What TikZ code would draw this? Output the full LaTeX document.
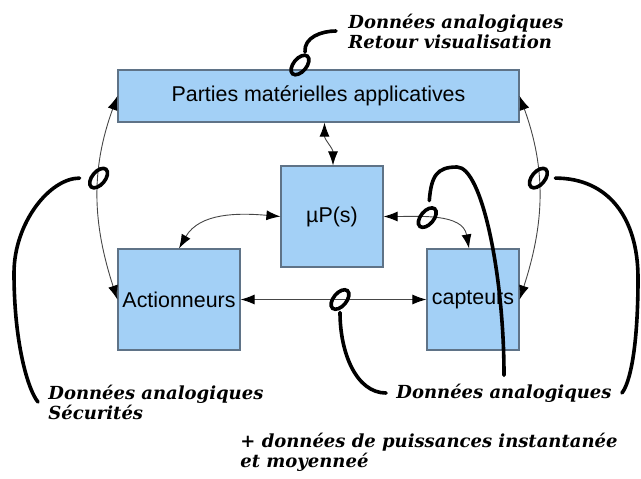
\documentclass[tikz,border=0pt]{standalone}
\usepackage{fontspec}
\setmainfont{Liberation Sans}
\newfontfamily\notefont{DejaVu Serif}
\usetikzlibrary{shapes.geometric,arrows.meta}
\definecolor{boxfill}{RGB}{163,208,246}
\definecolor{boxline}{RGB}{95,115,135}
\definecolor{wire}{RGB}{70,70,70}

\begin{document}
\begin{tikzpicture}[x=0.5pt,y=0.5pt,
  bloc/.style={draw=boxline,fill=boxfill,line width=0.6pt,inner sep=0pt,font=\fontsize{10.7}{12}\selectfont},
  link/.style={draw=wire,line width=0.45pt,{Latex[length=7pt,width=5pt,color=black]}-{Latex[length=7pt,width=5pt,color=black]}},
  ring/.style={draw=black,ellipse,line width=1.8pt,minimum width=6.5pt,minimum height=11.5pt,inner sep=0pt,rotate=-40},
  lead/.style={line width=1.8pt,line cap=round},
  note/.style={font=\notefont\bfseries\itshape\fontsize{9}{10}\selectfont,align=left,inner sep=0pt}]
\useasboundingbox (0,0) rectangle (641,478);

\node[bloc,minimum width=200.5pt,minimum height=26pt] (parties) at (318.5,382) {Parties matérielles applicatives};
\node[bloc,minimum width=51pt,minimum height=50.5pt] (up) at (332,261.5) {µP(s)};
\node[bloc,minimum width=61pt,minimum height=50.5pt] (act) at (179,178.5) {Actionneurs};
\node[bloc,minimum width=46pt,minimum height=50.5pt] (capt) at (473,178.5) {capteurs};

\draw[link] (parties.west) to[out=250,in=108] node[ring,pos=0.4] (rg) {} (act.west);
\draw[link] (parties.east) to[out=290,in=72] node[ring,pos=0.4] (rd) {} (capt.east);
\draw[link] ([xshift=3pt]parties.south) to[out=-90,in=90] ([xshift=0.5pt]up.north);
\draw[link] (up.west) to[out=175,in=60] (act.north);
\draw[link] (up.east) to[out=0,in=100] node[ring,pos=0.4] (rc) {} ([xshift=-2pt]capt.north);
\draw[link] (act.east) -- node[ring,pos=0.535] (rb) {} (capt.west);
\node[ring] (rh) at (300,413) {};

\node[note,anchor=west] (txth) at (348,447) {Données analogiques\\Retour visualisation};
\node[note,anchor=west] (txts) at (48,76) {Données analogiques\\Sécurités};
\node[note] (txta) at (504,85) {Données analogiques};
\node[note,anchor=west] (txtp) at (240,26) {+ données de puissances instantanée\\et moyenneé};

\draw[lead] ([xshift=2.5pt,yshift=6.5pt]rh.center) to[out=95,in=180] ([xshift=-6pt]txth.west);
\draw[lead] ([xshift=-9.5pt]rg.center) .. controls +(-30,0) and +(0,50) .. (14,205) .. controls +(0,-70) and +(-10,12) .. ([xshift=-5pt]txts.west);
\draw[lead] ([yshift=-6.5pt]rb.center) .. controls +(0,-40) and +(-30,0) .. ([xshift=-5pt]txta.west);
\draw[lead] ([xshift=8.5pt]rd.center) .. controls +(53,0) and +(0,60) .. (638,200) .. controls +(0,-70) and +(8,10) .. ([xshift=5pt]txta.east);
\draw[lead] ([xshift=1pt,yshift=8.5pt]rc.center) .. controls +(2,25) and +(-20,0) .. (457,311) .. controls +(25,0) and +(0,100) .. ([yshift=4pt]txta.north);
\end{tikzpicture}
\end{document}
